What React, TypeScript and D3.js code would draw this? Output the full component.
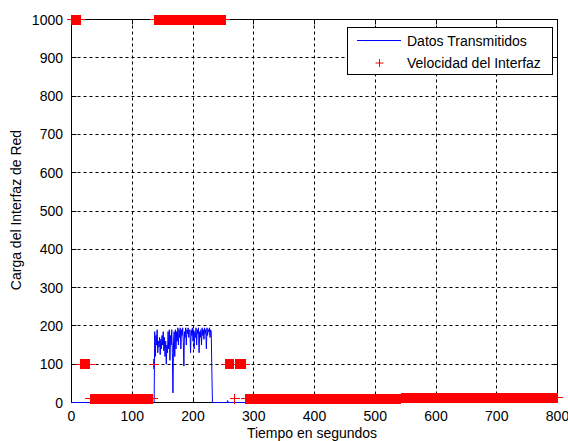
import React from "react";
import * as d3 from "d3";

// ---- data ----
const xTicks = [0, 100, 200, 300, 400, 500, 600, 700, 800];
const yTicks = [0, 100, 200, 300, 400, 500, 600, 700, 800, 900, 1000];

// Datos Transmitidos (time in s, load)
const dataTimes = [
  0, 136,
  137, 138, 139, 140, 141, 142, 143, 144, 145, 146,
  147, 148, 149, 150, 151, 152, 153, 154, 155, 156,
  157, 158, 159, 160, 161, 162, 163, 164, 165, 166,
  167, 168, 169, 170, 171, 172, 173, 174, 175, 176,
  177, 178, 179, 180, 181, 182, 183, 184, 185, 186,
  187, 188, 189, 190, 191, 192, 193, 194, 195, 196,
  197, 198, 199, 200, 201, 202, 203, 204, 205, 206,
  207, 208, 209, 210, 211, 212, 213, 214, 215, 216,
  217, 218, 219, 220, 221, 222, 223, 224, 225, 226,
  227, 228, 229, 230, 231,
  232, 256, 257, 258, 800,
];
const dataValues = [
  0, 0,
  185, 120, 175, 150, 190, 130, 160, 145, 170, 125,
  165, 140, 175, 150, 185, 135, 170, 120, 160, 100,
  150, 130, 185, 140, 190, 110, 175, 150, 190, 130,
  25, 160, 185, 120, 190, 140, 185, 160, 195, 150,
  190, 170, 195, 140, 190, 175, 195, 160, 95, 185,
  170, 195, 150, 190, 180, 195, 170, 190, 185, 130,
  190, 175, 195, 160, 190, 140, 185, 170, 195, 150,
  190, 180, 195, 130, 185, 170, 190, 150, 195, 175,
  190, 165, 195, 180, 190, 140, 195, 175, 190, 185,
  195, 170, 190, 185, 85,
  0, 0, 5, 0, 0,
];

// Velocidad del Interfaz: piecewise-constant segments sampled every second
const speedStart = [0, 15, 31, 135, 137, 254, 269, 270, 287, 543];
const speedEnd = [14, 30, 134, 135, 253, 267, 269, 286, 542, 800];
const speedValue = [1000, 100, 10, 100, 1000, 100, 10, 100, 10, 12];

const W = 568;
const H = 441;
const FONT = "'Liberation Sans', Arial, Helvetica, sans-serif";

export default function App() {
  const x = d3.scaleLinear().domain([0, 800]).range([71.5, 557.5]);
  const y = d3.scaleLinear().domain([0, 1000]).range([402.5, 19.5]);
  const px = (v: number) => Math.round(x(v) - 0.5) + 0.5;
  const py = (v: number) => Math.round(y(v) - 0.5) + 0.5;

  const linePts: [number, number][] = dataTimes.map((t, i) => [t, dataValues[i]]);
  const line = d3
    .line<[number, number]>()
    .x((d) => x(d[0]))
    .y((d) => y(d[1]));

  const speedPts: [number, number][] = [];
  speedStart.forEach((s, i) => {
    d3.range(s, speedEnd[i] + 1, 1).forEach((t) => speedPts.push([t, speedValue[i]]));
  });
  const ms = 5;
  const plusPath = speedPts
    .map(([t, v]) => {
      const cx = x(t);
      const cy = y(v);
      return `M${cx - ms},${cy}H${cx + ms}M${cx},${cy - ms}V${cy + ms}`;
    })
    .join("");

  const x0 = x.range()[0];
  const x1 = x.range()[1];
  const y0 = y.range()[0];
  const y1 = y.range()[1];
  const tl = 5;

  return (
    <svg
      width={W}
      height={H}
      style={{ position: "absolute", left: 0, top: 0, background: "#fff" }}
      fontFamily={FONT}
    >
      <rect x={0} y={0} width={W} height={H} fill="#fff" />
      {/* grid */}
      <g stroke="#000" strokeWidth={1} strokeDasharray="3,3" fill="none">
        {xTicks.slice(1, -1).map((t) => (
          <line key={"gx" + t} x1={px(t)} x2={px(t)} y1={y1} y2={y0} />
        ))}
        {yTicks.slice(1, -1).map((t) => (
          <line key={"gy" + t} x1={x0} x2={x1} y1={py(t)} y2={py(t)} />
        ))}
      </g>
      {/* ticks */}
      <g stroke="#000" strokeWidth={1}>
        {xTicks.map((t) => (
          <g key={"tx" + t}>
            <line x1={px(t)} x2={px(t)} y1={y0} y2={y0 - tl} />
            <line x1={px(t)} x2={px(t)} y1={y1} y2={y1 + tl} />
          </g>
        ))}
        {yTicks.map((t) => (
          <g key={"ty" + t}>
            <line x1={x0} x2={x0 + tl} y1={py(t)} y2={py(t)} />
            <line x1={x1} x2={x1 - tl} y1={py(t)} y2={py(t)} />
          </g>
        ))}
      </g>
      {/* box */}
      <rect x={x0} y={y1} width={x1 - x0} height={y0 - y1} fill="none" stroke="#000" strokeWidth={1} />
      {/* tick labels */}
      <g fontSize={14} fill="#000">
        {xTicks.map((t) => (
          <text key={"lx" + t} x={x(t)} y={421} textAnchor="middle">
            {t}
          </text>
        ))}
        {yTicks.map((t) => (
          <text key={"ly" + t} x={63} y={y(t)} dy="0.36em" textAnchor="end">
            {t}
          </text>
        ))}
      </g>
      {/* data */}
      <path d={line(linePts) || ""} fill="none" stroke="#0000ff" strokeWidth={1} />
      <path d={plusPath} fill="none" stroke="#ff0000" strokeWidth={1} shapeRendering="crispEdges" />
      {/* axis labels */}
      <text x={312} y={438} fontSize={14} textAnchor="middle" fill="#000">
        Tiempo en segundos
      </text>
      <text
        transform={`translate(20.5,210) rotate(-90)`}
        fontSize={14}
        textAnchor="middle"
        fill="#000"
      >
        Carga del Interfaz de Red
      </text>
      {/* legend */}
      <g>
        <rect x={347.5} y={27.5} width={205} height={47} fill="#fff" stroke="#000" strokeWidth={1} />
        <line x1={357} x2={401} y1={40.5} y2={40.5} stroke="#0000ff" strokeWidth={1} />
        <text x={407} y={45.5} fontSize={14} fill="#000">
          Datos Transmitidos
        </text>
        <path d={`M${379.5 - 4},63H${379.5 + 4}M379.5,${63 - 4}V${63 + 4}`} stroke="#ff0000" strokeWidth={1} fill="none" />
        <text x={407} y={68} fontSize={14} fill="#000">
          Velocidad del Interfaz
        </text>
      </g>
    </svg>
  );
}
